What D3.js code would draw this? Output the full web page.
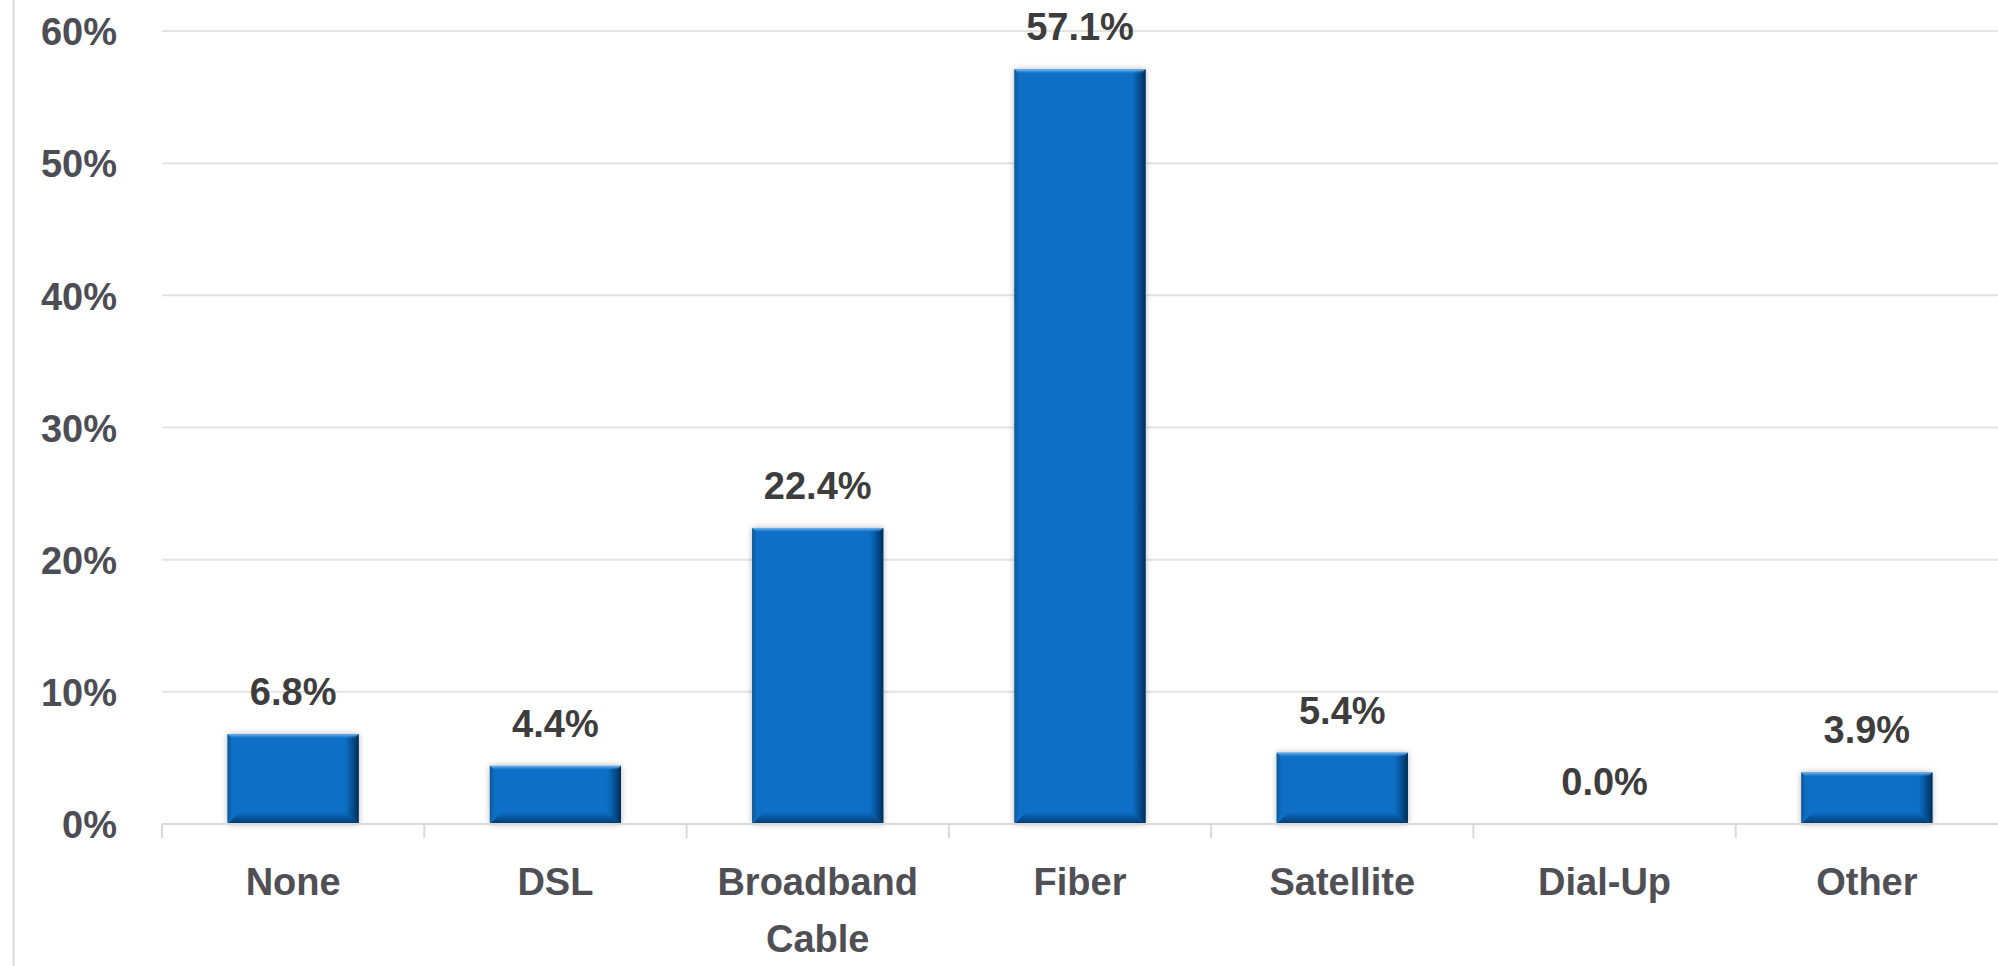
<!DOCTYPE html>
<html>
<head>
<meta charset="utf-8">
<script src="https://cdn.jsdelivr.net/npm/d3@7/dist/d3.min.js"></script>
<style>
  html, body { margin: 0; padding: 0; background: #ffffff; }
  svg { display: block; }
  text { font-family: "Liberation Sans", Arial, sans-serif; font-weight: bold; }
</style>
</head>
<body>
<svg id="chart" width="1998" height="966"></svg>
<script>
const categories = ["None", "DSL", "Broadband Cable", "Fiber", "Satellite", "Dial-Up", "Other"];
const categoryLines = [["None"], ["DSL"], ["Broadband", "Cable"], ["Fiber"], ["Satellite"], ["Dial-Up"], ["Other"]];
const values = [6.8, 4.4, 22.4, 57.1, 5.4, 0.0, 3.9];
const yTicks = [0, 10, 20, 30, 40, 50, 60];

const W = 1998, H = 966;
const plot = { left: 162, right: 1998, top: 31, bottom: 824 };

const svg = d3.select("#chart");

const x = d3.scaleBand()
  .domain(categories)
  .range([plot.left, plot.right])
  .paddingInner(0.5)
  .paddingOuter(0.25);

const y = d3.scaleLinear()
  .domain([0, 60])
  .range([plot.bottom, plot.top]);

// outer chart-area border (left edge visible)
svg.append("line")
  .attr("x1", 13.5).attr("x2", 13.5)
  .attr("y1", 0).attr("y2", H)
  .attr("stroke", "#d9d9d9").attr("stroke-width", 2);

// gridlines
svg.append("g")
  .selectAll("line")
  .data(yTicks.filter(d => d !== 0))
  .join("line")
  .attr("x1", plot.left).attr("x2", plot.right)
  .attr("y1", d => y(d)).attr("y2", d => y(d))
  .attr("stroke", "#e3e3e3").attr("stroke-width", 2);

// y axis labels
const yAxis = d3.axisLeft(y).tickValues(yTicks).tickFormat(d => d + "%").tickSize(0).tickPadding(0);
const gy = svg.append("g").attr("transform", `translate(117,0)`).call(yAxis);
gy.select(".domain").remove();
gy.selectAll("text")
  .attr("fill", "#4d4d55")
  .attr("font-size", 38)
  .attr("font-family", "Liberation Sans, Arial, sans-serif")
  .attr("font-weight", "bold")
  .attr("dy", "0.36em");

// defs for bar shading
const defs = svg.append("defs");
const gBottom = defs.append("linearGradient").attr("id", "gBottom").attr("x1", 0).attr("y1", 0).attr("x2", 0).attr("y2", 1);
gBottom.append("stop").attr("offset", "0%").attr("stop-color", "#003d78").attr("stop-opacity", 0);
gBottom.append("stop").attr("offset", "100%").attr("stop-color", "#00356a").attr("stop-opacity", 1);
const gRight = defs.append("linearGradient").attr("id", "gRight").attr("x1", 0).attr("y1", 0).attr("x2", 1).attr("y2", 0);
gRight.append("stop").attr("offset", "0%").attr("stop-color", "#003d78").attr("stop-opacity", 0);
gRight.append("stop").attr("offset", "100%").attr("stop-color", "#002c55").attr("stop-opacity", 1);
const gTop = defs.append("linearGradient").attr("id", "gTop").attr("x1", 0).attr("y1", 0).attr("x2", 0).attr("y2", 1);
gTop.append("stop").attr("offset", "0%").attr("stop-color", "#7ab8ee").attr("stop-opacity", 0.95);
gTop.append("stop").attr("offset", "100%").attr("stop-color", "#5aa6e6").attr("stop-opacity", 0);
const gLeft = defs.append("linearGradient").attr("id", "gLeft").attr("x1", 0).attr("y1", 0).attr("x2", 1).attr("y2", 0);
gLeft.append("stop").attr("offset", "0%").attr("stop-color", "#114f85").attr("stop-opacity", 0.8);
gLeft.append("stop").attr("offset", "100%").attr("stop-color", "#114f85").attr("stop-opacity", 0);
const shadow = defs.append("filter").attr("id", "shadow").attr("x", "-20%").attr("y", "-20%").attr("width", "140%").attr("height", "140%");
shadow.append("feGaussianBlur").attr("in", "SourceAlpha").attr("stdDeviation", 3).attr("result", "b");
shadow.append("feComponentTransfer").attr("in", "b").attr("result", "s")
  .append("feFuncA").attr("type", "linear").attr("slope", 0.3);
const m = shadow.append("feMerge");
m.append("feMergeNode").attr("in", "s");
m.append("feMergeNode").attr("in", "SourceGraphic");

const data = categories.map((c, i) => ({ c, v: values[i], lines: categoryLines[i] }));

const bars = svg.append("g").selectAll("g").data(data.filter(d => d.v > 0)).join("g");
bars.append("rect")
  .attr("x", d => x(d.c)).attr("y", d => y(d.v))
  .attr("width", x.bandwidth()).attr("height", d => y(0) - y(d.v))
  .attr("fill", "#0a70c6")
  .attr("filter", "url(#shadow)");
const bev = 12;
// left darker edge
bars.append("polygon")
  .attr("points", d => {
    const x0 = x(d.c), y0 = y(d.v), y1 = y(0), b = Math.min(bev, (y1 - y0) / 2);
    return `${x0},${y0} ${x0 + 5},${y0 + 3} ${x0 + 5},${y1 - b} ${x0},${y1}`;
  })
  .attr("fill", "url(#gLeft)");
// right dark
bars.append("polygon")
  .attr("points", d => {
    const x1 = x(d.c) + x.bandwidth(), y0 = y(d.v), y1 = y(0), b = Math.min(bev, (y1 - y0) / 2);
    return `${x1},${y0} ${x1},${y1} ${x1 - 14},${y1 - b} ${x1 - 14},${y0 + 4}`;
  })
  .attr("fill", "url(#gRight)");
// bottom dark
bars.append("polygon")
  .attr("points", d => {
    const x0 = x(d.c), x1 = x0 + x.bandwidth(), y0 = y(d.v), y1 = y(0), b = Math.min(bev, (y1 - y0) / 2);
    return `${x0},${y1} ${x0 + 12},${y1 - b} ${x1 - 14},${y1 - b} ${x1},${y1}`;
  })
  .attr("fill", "url(#gBottom)");
// top highlight
bars.append("polygon")
  .attr("points", d => {
    const x0 = x(d.c), x1 = x0 + x.bandwidth(), y0 = y(d.v);
    return `${x0},${y0} ${x1},${y0} ${x1 - 4},${y0 + 4} ${x0 + 4},${y0 + 4}`;
  })
  .attr("fill", "url(#gTop)");

// baseline axis
svg.append("line")
  .attr("x1", plot.left).attr("x2", plot.right)
  .attr("y1", y(0)).attr("y2", y(0))
  .attr("stroke", "#d9d9d9").attr("stroke-width", 2);

// tick marks at band boundaries
const boundaries = categories.map(c => x(c) - x.step() * x.paddingInner() / 2);
svg.append("g").selectAll("line").data(boundaries).join("line")
  .attr("x1", d => d).attr("x2", d => d)
  .attr("y1", y(0)).attr("y2", y(0) + 14)
  .attr("stroke", "#d9d9d9").attr("stroke-width", 2);

// value labels
svg.append("g").selectAll("text").data(data).join("text")
  .attr("x", d => x(d.c) + x.bandwidth() / 2)
  .attr("y", d => y(d.v) - 29)
  .attr("text-anchor", "middle")
  .attr("font-size", 38)
  .attr("fill", "#3d3d3d")
  .text(d => d.v.toFixed(1) + "%");

// x category labels
const xl = svg.append("g").selectAll("text").data(data).join("text")
  .attr("x", d => x(d.c) + x.bandwidth() / 2)
  .attr("y", 895)
  .attr("text-anchor", "middle")
  .attr("font-size", 38)
  .attr("fill", "#4f4f55");
xl.selectAll("tspan").data(d => d.lines.map((l, i) => ({ l, i, cx: x(d.c) + x.bandwidth() / 2 }))).join("tspan")
  .attr("x", t => t.cx)
  .attr("dy", t => t.i === 0 ? 0 : 57)
  .text(t => t.l);
</script>
</body>
</html>
